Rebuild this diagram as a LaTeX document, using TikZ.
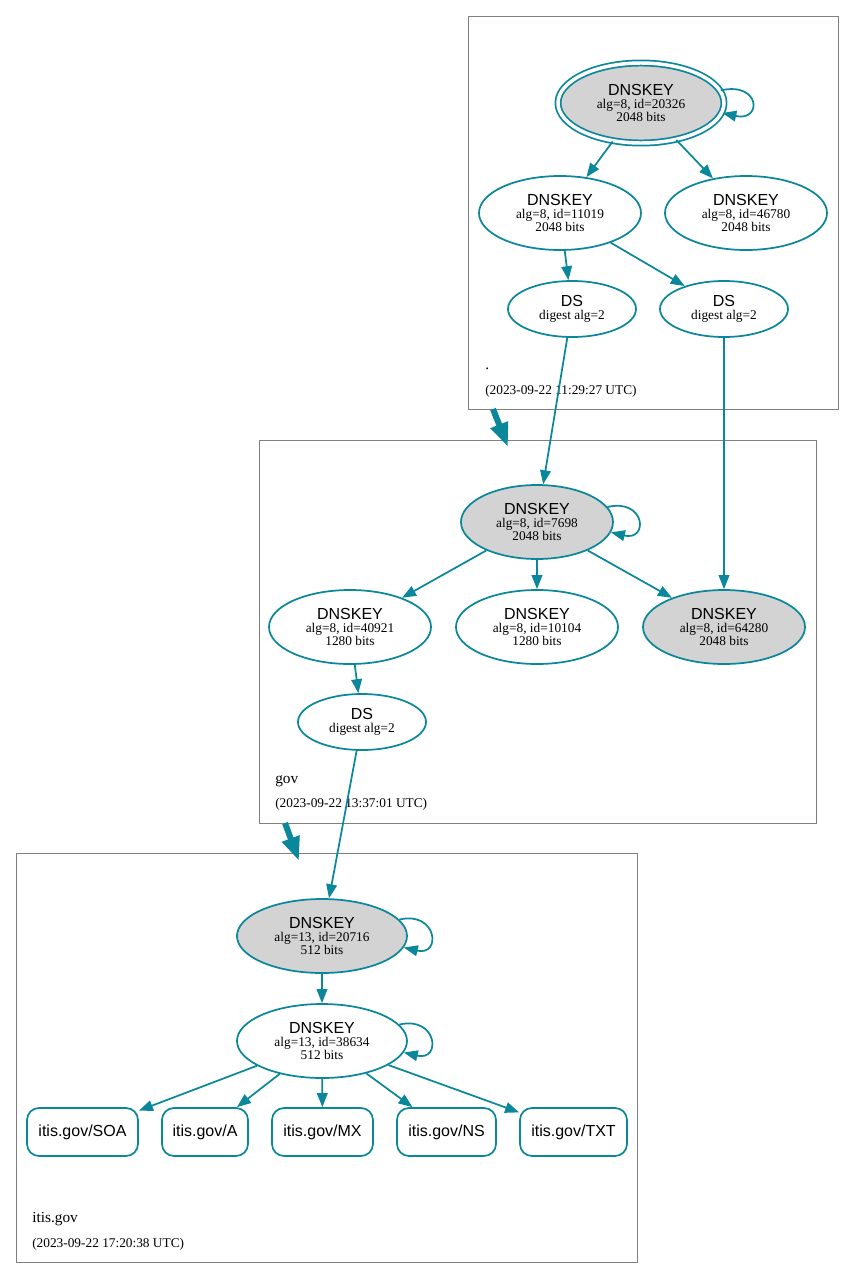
\documentclass[tikz,border=0pt]{standalone}
\usepackage{fontspec}
\setmainfont{Liberation Serif}
\newfontfamily\hv{Liberation Sans}
\usetikzlibrary{shapes.geometric,arrows.meta}
\definecolor{secure}{HTML}{0A879A}
\definecolor{keyfill}{HTML}{D3D3D3}
\newcommand{\keylabel}[2]{{\hv\fontsize{12}{12}\selectfont DNSKEY}\\#1\\#2}
\newcommand{\dslabel}{{\hv\fontsize{12}{12}\selectfont DS}\\digest alg=2}
\tikzset{
  key/.style={ellipse, draw=secure, line width=1.3pt, inner sep=0pt, align=center,
    minimum width=121.5pt, minimum height=55.5pt, font=\fontsize{10}{9.5}\selectfont},
  ksk/.style={key, fill=keyfill},
  dsnode/.style={key, minimum width=96pt, minimum height=42pt},
  rrset/.style={rectangle, rounded corners=9pt, draw=secure, line width=1.3pt,
    minimum height=36pt, inner sep=0pt, font=\hv\fontsize{12}{14}\selectfont},
  sig/.style={draw=secure, line width=1.3pt, -{Triangle[length=10.5pt,width=8pt]}},
  deleg/.style={draw=secure, line width=4.5pt, -{Triangle[length=18pt,width=13pt]}},
  zone/.style={draw=gray, line width=0.75pt},
  zonename/.style={anchor=west, inner sep=0pt, font=\fontsize{11.5}{12}\selectfont},
  stamp/.style={anchor=west, inner sep=0pt, font=\fontsize{10}{12}\selectfont},
}
\begin{document}
\begin{tikzpicture}[x=0.75pt,y=-0.75pt]
  \useasboundingbox (0,0) rectangle (855,1278);

  % zone boxes
  \draw[zone] (468,16) rectangle (838,409);
  \draw[zone] (259,440) rectangle (816,823);
  \draw[zone] (16,853) rectangle (637,1262);

  % root zone
  \node[ksk, double=white, double distance=2.6pt, minimum width=124.5pt, minimum height=60pt]
    (rksk) at (641,103) {\keylabel{alg=8, id=20326}{2048 bits}};
  \node[key] (rzsk1) at (560,213) {\keylabel{alg=8, id=11019}{2048 bits}};
  \node[key] (rzsk2) at (746,213) {\keylabel{alg=8, id=46780}{2048 bits}};
  \node[dsnode] (rds1) at (572,309) {\dslabel};
  \node[dsnode] (rds2) at (724,309) {\dslabel};
  \node[zonename] (rname) at (485,369) {.};
  \node[stamp] (rtime) at (485,391) {(2023-09-22 11:29:27 UTC)};

  % gov zone
  \node[ksk, minimum width=114pt] (gksk) at (537,522) {\keylabel{alg=8, id=7698}{2048 bits}};
  \node[key] (gzsk1) at (350,627) {\keylabel{alg=8, id=40921}{1280 bits}};
  \node[key] (gzsk2) at (537,627) {\keylabel{alg=8, id=10104}{1280 bits}};
  \node[ksk] (gksk2) at (724,627) {\keylabel{alg=8, id=64280}{2048 bits}};
  \node[dsnode] (gds) at (362,722) {\dslabel};
  \node[zonename] (gname) at (275,781) {gov};
  \node[stamp] (gtime) at (275,804) {(2023-09-22 13:37:01 UTC)};

  % itis.gov zone
  \node[ksk, minimum width=127.5pt] (iksk) at (322,936) {\keylabel{alg=13, id=20716}{512 bits}};
  \node[key, minimum width=127.5pt] (izsk) at (322,1041) {\keylabel{alg=13, id=38634}{512 bits}};
  \node[rrset, minimum width=83.25pt] (soa) at (82.5,1132) {itis.gov/SOA};
  \node[rrset, minimum width=64.5pt] (a) at (205,1132) {itis.gov/A};
  \node[rrset, minimum width=75.75pt] (mx) at (322.5,1132) {itis.gov/MX};
  \node[rrset, minimum width=74.25pt] (ns) at (446.5,1132) {itis.gov/NS};
  \node[rrset, minimum width=80.25pt] (txt) at (573.5,1132) {itis.gov/TXT};
  \node[zonename] (iname) at (32,1219) {itis.gov};
  \node[stamp] (itime) at (32,1244) {(2023-09-22 17:20:38 UTC)};

  % delegations
  \coordinate (rbot) at (493,409);
  \coordinate (gtop) at (508,447);
  \coordinate (gbot) at (285,823);
  \coordinate (itop) at (299,861);
  \draw[deleg] (rbot) -- (gtop);
  \draw[deleg] (gbot) -- (itop);

  % signatures and digests
  \draw[sig] (rksk.9) .. controls +(40,-9) and +(40,9) .. (rksk.-7);
  \draw[sig] (rksk) -- (rzsk1);
  \draw[sig] (rksk) -- (rzsk2);
  \draw[sig] (rzsk1) -- (rds1);
  \draw[sig] (rzsk1) -- (rds2);
  \draw[sig] (rds1) -- (gksk);
  \draw[sig] (rds2) -- (gksk2);

  \draw[sig] (gksk.12) .. controls +(38,-9) and +(38,9) .. (gksk.-8);
  \draw[sig] (gksk) -- (gzsk1);
  \draw[sig] (gksk) -- (gzsk2);
  \draw[sig] (gksk) -- (gksk2);
  \draw[sig] (gzsk1) -- (gds);
  \draw[sig] (gds) -- (iksk);

  \draw[sig] (iksk.12) .. controls +(38,-9) and +(38,9) .. (iksk.-8);
  \draw[sig] (iksk) -- (izsk);
  \draw[sig] (izsk.12) .. controls +(38,-9) and +(38,9) .. (izsk.-8);
  \foreach \r in {soa,a,mx,ns,txt}
    \draw[sig] (izsk) -- (\r);
\end{tikzpicture}
\end{document}
